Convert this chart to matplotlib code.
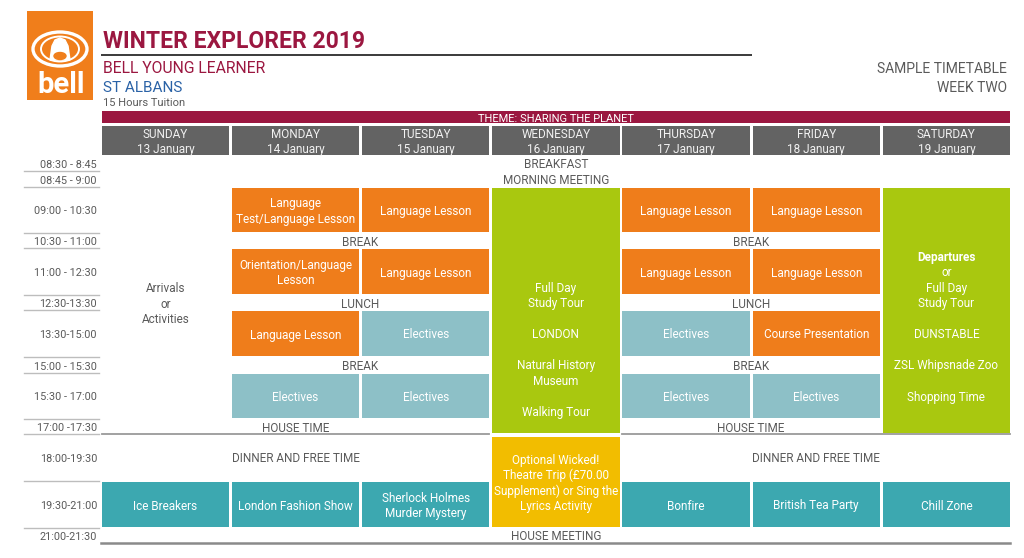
import matplotlib
matplotlib.use("Agg")
import matplotlib.pyplot as plt
from matplotlib.patches import Rectangle, Ellipse, Polygon

plt.rcParams['font.family'] = ['Roboto', 'DejaVu Sans']

# ---------------- data ----------------
days = ["SUNDAY", "MONDAY", "TUESDAY", "WEDNESDAY", "THURSDAY", "FRIDAY", "SATURDAY"]
dates = ["13 January", "14 January", "15 January", "16 January",
         "17 January", "18 January", "19 January"]
time_slots = ["08:30 - 8:45", "08:45 - 9:00", "09:00 - 10:30", "10:30 - 11:00",
              "11:00 - 12:30", "12:30-13:30", "13:30-15:00", "15:00 - 15:30",
              "15:30 - 17:00", "17:00 -17:30", "18:00-19:30", "19:30-21:00",
              "21:00-21:30"]

# boxed activities: (day index, first slot, last slot, text, kind)
activities = [
    (1, 2, 2, "Language\nTest/Language Lesson", "lesson"),
    (2, 2, 2, "Language Lesson", "lesson"),
    (4, 2, 2, "Language Lesson", "lesson"),
    (5, 2, 2, "Language Lesson", "lesson"),
    (1, 4, 4, "Orientation/Language\nLesson", "lesson"),
    (2, 4, 4, "Language Lesson", "lesson"),
    (4, 4, 4, "Language Lesson", "lesson"),
    (5, 4, 4, "Language Lesson", "lesson"),
    (1, 6, 6, "Language Lesson", "lesson"),
    (2, 6, 6, "Electives", "elective"),
    (4, 6, 6, "Electives", "elective"),
    (5, 6, 6, "Course Presentation", "lesson"),
    (1, 8, 8, "Electives", "elective"),
    (2, 8, 8, "Electives", "elective"),
    (4, 8, 8, "Electives", "elective"),
    (5, 8, 8, "Electives", "elective"),
    (3, 2, 9, "", "tour"),
    (6, 2, 9, "", "tour"),
    (3, 10, 11, "Optional Wicked!\nTheatre Trip (£70.00\nSupplement) or Sing the\nLyrics Activity", "optional"),
    (0, 11, 11, "Ice Breakers", "evening"),
    (1, 11, 11, "London Fashion Show", "evening"),
    (2, 11, 11, "Sherlock Holmes\nMurder Mystery", "evening"),
    (4, 11, 11, "Bonfire", "evening"),
    (5, 11, 11, "British Tea Party", "evening"),
    (6, 11, 11, "Chill Zone", "evening"),
]

# tour text inside the full-day boxes: (day, [(line, bold)], line offset from slot 4 centre)
tours = [
    (3, [("Full Day", False), ("Study Tour", False), ("", False), ("LONDON", False),
         ("", False), ("Natural History", False), ("Museum", False), ("", False),
         ("Walking Tour", False)], 1),
    (6, [("Departures", True), ("or", False), ("Full Day", False), ("Study Tour", False),
         ("", False), ("DUNSTABLE", False), ("", False), ("ZSL Whipsnade Zoo", False),
         ("", False), ("Shopping Time", False)], -1),
]

# plain (unboxed) entries: (first day, last day, slot, text)
plain = [
    (0, 6, 0, "BREAKFAST"),
    (0, 6, 1, "MORNING MEETING"),
    (1, 2, 3, "BREAK"), (4, 5, 3, "BREAK"),
    (1, 2, 5, "LUNCH"), (4, 5, 5, "LUNCH"),
    (1, 2, 7, "BREAK"), (4, 5, 7, "BREAK"),
    (0, 2, 9, "HOUSE TIME"), (4, 5, 9, "HOUSE TIME"),
    (0, 2, 10, "DINNER AND FREE TIME"), (4, 6, 10, "DINNER AND FREE TIME"),
    (0, 6, 12, "HOUSE MEETING"),
    (0, 0, 5, "Arrivals\nor\nActivities"),
]

title = "WINTER EXPLORER 2019"
subtitle = "BELL YOUNG LEARNER"
location = "ST ALBANS"
tuition = "15 Hours Tuition"
sample = "SAMPLE TIMETABLE"
week = "WEEK TWO"
theme = "THEME: SHARING THE PLANET"

# ---------------- layout / style ----------------
kind_color = {"lesson": "#EF7D1B", "elective": "#8DC0C7", "tour": "#A9C80F",
              "optional": "#F2BD00", "evening": "#3CA8B0"}
CRIMSON = "#9B1740"
BLUE = "#2A62A6"
GRAY_TXT = "#5a5a5a"
HEADER_GRAY = "#636363"

row_px = [15, 16, 46, 15, 47, 15, 47, 16, 46, 15, 47, 47, 15]
grid_top = 156.0
col_left0, col_pitch, col_w = 101.7, 130.17, 127.3
pitch = 15.2
tour_pitch = 15.5
FS = 8.5
FS_TIME = 7.8
DY = 1.5  # optical correction for vertically centred text

row_edges = [grid_top]
for h in row_px:
    row_edges.append(row_edges[-1] + h)


def col_l(i):
    return col_left0 + i * col_pitch


def col_r(i):
    return col_l(i) + col_w


def row_c(j):
    return (row_edges[j] + row_edges[j + 1]) / 2


fig = plt.figure(figsize=(10.24, 5.58), dpi=100)
ax = fig.add_axes([0, 0, 1, 1])
ax.set_xlim(0, 1024)
ax.set_ylim(558, 0)
ax.axis("off")


def lines_text(x, yc, text, color, fs=FS, weight="normal"):
    parts = text.split("\n")
    n = len(parts)
    for k, p in enumerate(parts):
        y = yc + (k - (n - 1) / 2) * pitch + DY
        ax.text(x, y, p, ha="center", va="center", color=color, fontsize=fs,
                fontweight=weight)


# logo
ax.add_patch(Rectangle((27, 11), 66, 89, color="#F07E1B", lw=0))
ax.add_patch(Ellipse((60, 49), 54, 34, fill=False, ec="white", lw=2.4))
ax.add_patch(Ellipse((60, 49), 38, 25, fill=False, ec="white", lw=1.4))
ax.add_patch(Polygon([(50, 60), (52, 46), (55, 40), (60, 38), (65, 40), (68, 46), (70, 60)],
                     closed=True, fc="white", ec="white", lw=1))
ax.add_patch(Ellipse((60, 56), 12, 7, fc="#F07E1B", ec="#F07E1B"))
ax.text(61, 93, "bell", ha="center", va="baseline", color="white", fontsize=21,
        fontweight="bold")

# titles
ax.text(103, 48.5, title, ha="left", va="baseline", color=CRIMSON, fontsize=16.5,
        fontweight="bold")
ax.plot([101, 752], [54.5, 54.5], color="#3a3a3a", lw=1.4, solid_capstyle="butt")
ax.text(103, 73, subtitle, ha="left", va="baseline", color=CRIMSON, fontsize=11.3)
ax.text(103, 92, location, ha="left", va="baseline", color=BLUE, fontsize=11)
ax.text(103, 106, tuition, ha="left", va="baseline", color=GRAY_TXT, fontsize=8)
ax.text(1007, 73, sample, ha="right", va="baseline", color=GRAY_TXT, fontsize=10)
ax.text(1007, 92, week, ha="right", va="baseline", color=GRAY_TXT, fontsize=10)

# theme bar
ax.add_patch(Rectangle((col_l(0), 111), col_r(6) - col_l(0), 12, color=CRIMSON, lw=0))
ax.text((col_l(0) + col_r(6)) / 2, 117 + DY, theme, ha="center", va="center",
        color="white", fontsize=8)

# day headers
for i, (d, dt) in enumerate(zip(days, dates)):
    ax.add_patch(Rectangle((col_l(i), 126), col_w, 29, color=HEADER_GRAY, lw=0))
    lines_text((col_l(i) + col_r(i)) / 2, 140.5, d + "\n" + dt, "#f2f2f2")

# time labels and separators
for j, lab in enumerate(time_slots):
    ax.text(97, row_c(j) + DY, lab, ha="right", va="center", color=GRAY_TXT,
            fontsize=FS_TIME)
for j in range(1, len(row_px)):
    ax.plot([24, 99], [row_edges[j], row_edges[j]], color="#bdbdbd", lw=1)

# horizontal lines in the grid
busy_evening = {a[0] for a in activities if a[1] <= 10 <= a[2]}
segs = []
for i in range(len(days)):
    if i in busy_evening:
        continue
    l, r = col_l(i), col_r(i)
    if segs and abs(segs[-1][1] + (col_pitch - col_w) - l) < 1:
        segs[-1][1] = r
    else:
        segs.append([l, r])
for l, r in segs:
    ax.plot([l, r], [row_edges[10], row_edges[10]], color="#9a9a9a", lw=1.3)
ax.plot([col_l(0) - 1, col_r(6)], [row_edges[13], row_edges[13]], color="#8a8a8a", lw=1.8)

# activity boxes
for d, r0, r1, txt, kind in activities:
    inset = 2.5 if kind == "optional" else 1
    y0 = row_edges[r0] + inset
    y1 = row_edges[r1 + 1] - 1
    ax.add_patch(Rectangle((col_l(d), y0), col_w, y1 - y0, color=kind_color[kind], lw=0))
    if txt:
        lines_text((col_l(d) + col_r(d)) / 2, (y0 + y1) / 2, txt, "white")

# tour texts
for d, lines, off in tours:
    x = (col_l(d) + col_r(d)) / 2
    y = row_c(4) + off * tour_pitch + DY
    for k, (t, b) in enumerate(lines):
        if t:
            ax.text(x, y + k * tour_pitch, t, ha="center", va="center", color="white",
                    fontsize=FS, fontweight="bold" if b else "normal")

# plain texts
for d0, d1, r, txt in plain:
    lines_text((col_l(d0) + col_r(d1)) / 2, row_c(r), txt, GRAY_TXT)

fig.savefig("out.png", dpi=100)
